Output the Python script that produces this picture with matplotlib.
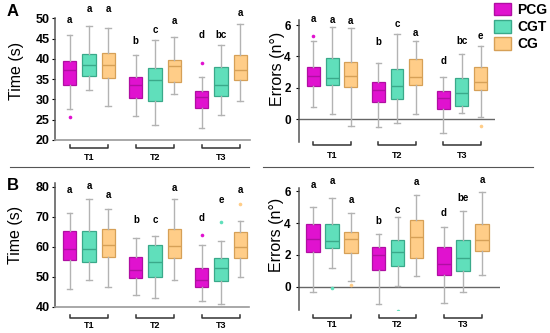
import numpy as np
import matplotlib.pyplot as plt
from matplotlib.patches import Patch
from matplotlib.lines import Line2D

plt.rcParams['font.family'] = ['Liberation Sans', 'DejaVu Sans']
plt.rcParams['font.weight'] = 'bold'

tests = ['T1', 'T2', 'T3']
groups = ['PCG', 'CGT', 'CG']
face = ['#e012cf', '#60dfbb', '#ffcd88']
edge = ['#b00ea2', '#3aa98a', '#d6a057']

# per test: whisker low, q1, median, q3, whisker high
time_a_pcg = [[27.6, 33.5, 37.3, 39.4, 45.8], [25.9, 30.3, 33.5, 35.6, 41.0], [23.0, 28.0, 30.7, 32.1, 35.5]]
time_a_cgt = [[32.3, 35.8, 38.4, 41.3, 48.1], [23.6, 29.6, 34.8, 37.8, 44.7], [26.1, 30.8, 33.5, 37.9, 43.5]]
time_a_cg = [[28.5, 35.4, 38.6, 41.5, 47.6], [31.4, 34.4, 38.2, 39.6, 45.4], [29.5, 34.8, 37.2, 41.0, 48.5]]
err_a_pcg = [[0.76, 2.12, 2.78, 3.30, 4.98], [-0.51, 1.08, 1.86, 2.39, 3.60], [-0.89, 0.64, 1.33, 1.80, 2.71]]
err_a_cgt = [[0.34, 2.18, 2.65, 3.92, 5.85], [-0.25, 1.27, 2.12, 3.20, 5.40], [0.42, 0.85, 1.65, 2.60, 4.17]]
err_a_cg = [[-0.42, 2.08, 2.78, 3.67, 5.78], [0.36, 2.16, 2.71, 3.81, 4.98], [0.17, 1.86, 2.39, 3.30, 4.66]]
time_b_pcg = [[45.9, 55.6, 59.2, 65.2, 71.3], [43.9, 49.4, 52.2, 56.7, 63.0], [42.0, 46.4, 48.9, 53.0, 60.6]]
time_b_cgt = [[48.9, 54.8, 59.2, 65.2, 75.9], [42.8, 49.8, 54.8, 60.6, 63.6], [40.9, 48.7, 53.0, 56.1, 61.9]]
time_b_cg = [[46.4, 56.7, 60.6, 65.8, 72.6], [48.9, 56.3, 60.3, 65.8, 75.8], [50.0, 56.3, 60.0, 65.0, 68.7]]
err_b_pcg = [[-0.32, 2.21, 3.01, 3.96, 4.99], [-1.09, 1.05, 2.00, 2.53, 3.33], [-1.01, 0.74, 1.41, 2.48, 3.75]]
err_b_cgt = [[1.16, 2.46, 2.91, 3.96, 5.62], [0.04, 1.33, 2.17, 2.95, 4.36], [-0.32, 1.01, 1.79, 2.95, 4.78]]
err_b_cg = [[0.38, 2.15, 3.01, 3.43, 4.63], [0.69, 1.83, 3.12, 4.21, 5.79], [0.74, 2.25, 2.95, 3.96, 5.96]]

# outliers: (group, test, value)
time_a_out = [('PCG', 'T1', 25.7), ('PCG', 'T3', 38.9)]
err_a_out = [('PCG', 'T1', 5.32), ('CG', 'T3', -0.42)]
time_b_out = [('PCG', 'T3', 63.9), ('CGT', 'T3', 68.3), ('CG', 'T3', 74.2)]
err_b_out = [('CGT', 'T1', -0.1), ('CG', 'T1', 0.1), ('CGT', 'T2', -1.55)]

# significance letters per test (PCG, CGT, CG) and their heights
time_a_let = [['a', 'a', 'a'], ['b', 'c', 'a'], ['d', 'bc', 'a']]
time_a_let_y = [[49.6, 52.4, 52.4], [44.3, 47.0, 49.4], [45.8, 45.8, 51.3]]
err_a_let = [['a', 'a', 'a'], ['b', 'c', 'a'], ['d', 'bc', 'e']]
err_a_let_y = [[6.4, 6.3, 6.25], [4.9, 6.06, 5.47], [3.7, 5.0, 5.32]]
time_b_let = [['a', 'a', 'a'], ['b', 'c', 'a'], ['d', 'e', 'a']]
time_b_let_y = [[78.9, 80.2, 77.2], [68.9, 68.9, 79.7], [69.4, 75.6, 78.9]]
err_b_let = [['a', 'a', 'a'], ['b', 'c', 'a'], ['d', 'be', 'a']]
err_b_let_y = [[6.42, 6.63, 5.47], [4.17, 4.84, 6.57], [4.63, 5.58, 6.74]]

W, H = 550, 333
fig = plt.figure(figsize=(5.5, 3.33), dpi=100)


def add_ax(left, top, right, bottom):
    return fig.add_axes([left / W, 1 - bottom / H, (right - left) / W, (bottom - top) / H])


def draw_panel(rect, series, outs, lets, lets_y, ylim, yticks, ylabel, xlim, lab_xy, br_dy, txt_dy, is_time):
    left, top, right, bottom = rect
    hpx = bottom - top
    wpx = right - left
    ax = add_ax(*rect)
    for g, vals in enumerate(series):
        stats = []
        for t, v in enumerate(vals):
            fl = [o[2] for o in outs if o[0] == groups[g] and o[1] == tests[t]]
            stats.append(dict(whislo=v[0], q1=v[1], med=v[2], q3=v[3], whishi=v[4], fliers=fl))
        pos = np.arange(1, 4) + (g - 1) * 0.29
        ax.bxp(stats, positions=pos, widths=0.2, capwidths=0.08, patch_artist=True,
               boxprops=dict(facecolor=face[g], edgecolor=edge[g], lw=0.9),
               medianprops=dict(color=edge[g], lw=1),
               whiskerprops=dict(color='#b3b3b3', lw=1),
               capprops=dict(color='#b3b3b3', lw=1),
               flierprops=dict(marker='o', markersize=2.6, markerfacecolor=face[g],
                               markeredgecolor='none'))
        for t in range(3):
            ax.text(pos[t], lets_y[t][g], lets[t][g], ha='center', va='center',
                    fontsize=7, clip_on=False)
    ax.set_xlim(*xlim)
    ax.set_ylim(*ylim)
    ax.set_yticks(yticks)
    ax.set_xticks([])
    ax.tick_params(axis='y', labelsize=9 if is_time else 8.5, length=2, width=0.8,
                   pad=2 if is_time else 4)
    for s in ['top', 'right']:
        ax.spines[s].set_visible(False)
    ax.spines['left'].set_color('#555555')
    ax.spines['left'].set_linewidth(1.1)
    if is_time:
        ax.spines['bottom'].set_color('#9a9a9a')
        ax.spines['bottom'].set_linewidth(1.2)
    else:
        ax.spines['bottom'].set_visible(False)
        ax.axhline(0, color='#666666', lw=1, zorder=0)
    ax.set_ylabel(ylabel, fontsize=11.5)
    # label anchor is the right edge of the rotated text
    ax.yaxis.set_label_coords((lab_xy[0] - left) / wpx, (bottom - lab_xy[1]) / hpx)
    trans = ax.get_xaxis_transform()
    yl = -br_dy / hpx
    tk = 3 / hpx
    for t, name in enumerate(tests):
        x0, x1 = t + 1 - 0.29, t + 1 + 0.29
        ax.plot([x0, x0, x1, x1], [yl + tk, yl, yl, yl + tk], transform=trans,
                color='#333333', lw=1.1, clip_on=False)
        ax.text(t + 1, -txt_dy / hpx, name, transform=trans, ha='center', va='center', fontsize=6.5)
    return ax


draw_panel((55, 18.3, 250, 140), [time_a_pcg, time_a_cgt, time_a_cg], time_a_out,
           time_a_let, time_a_let_y, (20, 50), [20, 25, 30, 35, 40, 45, 50], 'Time (s)',
           (0.485, 3.44), (24, 71), 8, 17, True)
draw_panel((299, 20, 495, 141.7), [err_a_pcg, err_a_cgt, err_a_cg], err_a_out,
           err_a_let, err_a_let_y, (-1.42, 6.32), [0, 2, 4, 6], 'Errors (n°)',
           (0.49, 3.51), (285, 69), 3.5, 13.5, False)
draw_panel((55, 183.3, 249, 306.7), [time_b_pcg, time_b_cgt, time_b_cg], time_b_out,
           time_b_let, time_b_let_y, (40, 81.1), [40, 50, 60, 70, 80], 'Time (s)',
           (0.485, 3.424), (23, 235), 11.3, 18.5, True)
draw_panel((299, 188.3, 500, 310), [err_b_pcg, err_b_cgt, err_b_cg], err_b_out,
           err_b_let, err_b_let_y, (-1.47, 6.2), [0, 2, 4, 6], 'Errors (n°)',
           (0.496, 3.565), (284, 235), 7.7, 14.5, False)

fig.text(7 / W, 1 - 12 / H, 'A', fontsize=12, va='center', ha='left')
fig.text(7 / W, 1 - 185.5 / H, 'B', fontsize=12, va='center', ha='left')
fig.add_artist(Line2D([10 / W, 249 / W], [1 - 167 / H] * 2, color='#555555', lw=0.8))
fig.add_artist(Line2D([263 / W, 533 / W], [1 - 167 / H] * 2, color='#555555', lw=0.8))

handles = [Patch(facecolor=face[i], edgecolor=edge[i], label=groups[i]) for i in range(3)]
fig.legend(handles=handles, loc='upper left', bbox_to_anchor=(494 / W, 1 - 3 / H),
           frameon=False, prop=dict(weight='bold', size=10), handlelength=1.25,
           handleheight=1.0, handletextpad=0.4, labelspacing=0.22, borderaxespad=0,
           borderpad=0)

fig.savefig('out.png', dpi=100)
